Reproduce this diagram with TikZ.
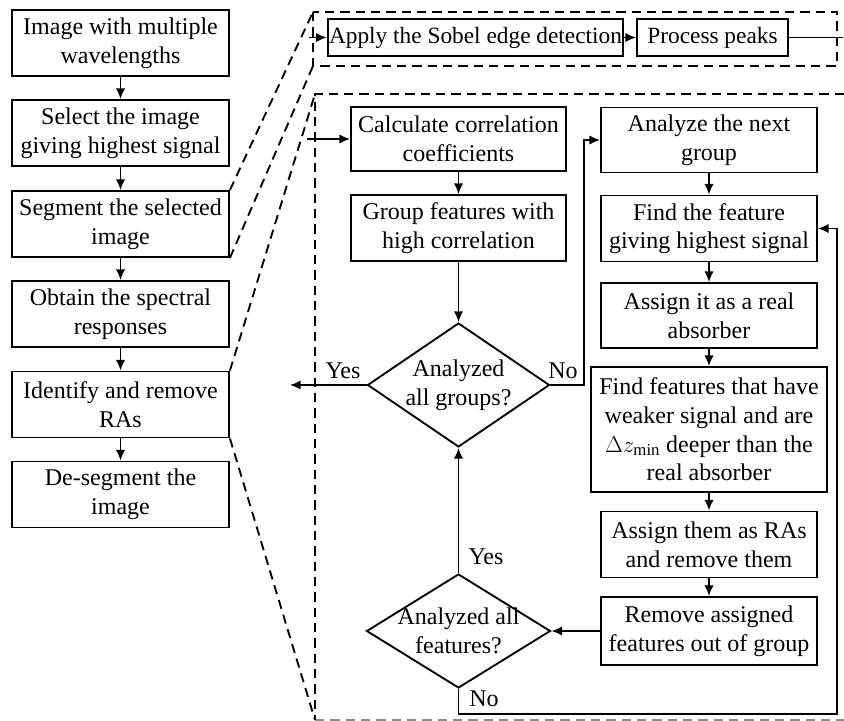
\documentclass[tikz,border=0pt]{standalone}
\usepackage{fontspec}
\setmainfont{Liberation Serif}
\usetikzlibrary{shapes.geometric,arrows.meta}

\begin{document}
\begin{tikzpicture}[x=0.75pt,y=-0.75pt,
    block/.style={draw,line width=1.4pt,align=center,inner sep=1pt,
        minimum width=162.75pt,minimum height=49.5pt,font=\fontsize{18}{21.5}\selectfont},
    decision/.style={draw,diamond,line width=1.4pt,align=center,inner sep=-12pt,
        font=\fontsize{18}{21.5}\selectfont},
    lbl/.style={inner sep=0pt,font=\fontsize{18}{21.5}\selectfont},
    arrow/.style={line width=1.3pt,-{Latex[length=8pt,width=7pt]}},
    zoomline/.style={line width=1.4pt,dash pattern=on 7pt off 4.5pt}]
\useasboundingbox (0,0) rectangle (844,721);
            % main steps
            \node (img) at (120.5,43) [block] {Image with multiple\\wavelengths};
            \node (sel) at (120.5,133) [block] {Select the image\\giving highest signal};
            \node (seg) at (120.5,224) [block] {Segment the selected\\image};
            \node (obt) at (120.5,314) [block] {Obtain the spectral\\responses};
            \node (idf) at (120.5,404.5) [block] {Identify and remove\\RAs};
            \node (des) at (120.5,494.5) [block] {De-segment the\\image};
            \draw[arrow] (img) -- (sel);
            \draw[arrow] (sel) -- (seg);
            \draw[arrow] (seg) -- (obt);
            \draw[arrow] (obt) -- (idf);
            \draw[arrow] (idf) -- (des);
            % segmentation detail
            \coordinate (ta) at (313,12);
            \coordinate (tb) at (313,66);
            \coordinate (tc) at (837,66);
            \coordinate (tin) at (309,37.5);
            \coordinate (tout) at (843,37.5);
            \draw[zoomline] (ta) rectangle (tc);
            \node (sob) at (475.5,37.5) [block,minimum width=219.75pt,minimum height=27.75pt,font=\fontsize{17.5}{21}\selectfont] {Apply the Sobel edge detection};
            \node (pro) at (712.5,37.5) [block,minimum width=113.25pt,minimum height=27.75pt,font=\fontsize{17.5}{21}\selectfont] {Process peaks};
            \draw[arrow] (tin) -- (sob);
            \draw[arrow] (sob) -- (pro);
            \draw[line width=1.3pt] (pro) -- (tout);
            \draw[zoomline] (seg.north east) -- (ta);
            \draw[zoomline] (seg.south east) -- (tb);
            % RA removal detail
            \coordinate (ba) at (315,94);
            \coordinate (bb) at (315,720);
            \draw[zoomline] (844,94) -- (ba) -- (bb);
            \draw[zoomline,black!45] (bb) -- (844,720);
            \draw[zoomline] (idf.north east) -- (ba);
            \draw[zoomline] (idf.south east) -- (bb);
            \coordinate (cin) at (307,139);
            \node (cal) at (458.5,139) [block,minimum width=161.25pt,minimum height=48pt] {Calculate correlation\\coefficients};
            \node (grp) at (458.5,228) [block,minimum width=161.25pt] {Group features with\\high correlation};
            \node (dg) at (458.5,385) [decision,minimum width=136.5pt,minimum height=93pt] {Analyzed\\all groups?};
            \node (ana) at (709,140) [block,minimum width=162pt,minimum height=48.75pt] {Analyze the next\\group};
            \node (fea) at (709,228.5) [block,minimum width=162pt] {Find the feature\\giving highest signal};
            \node (asg) at (709,315.5) [block,minimum width=162pt,minimum height=48.75pt] {Assign it as a real\\absorber};
            \node (fnd) at (709,429.5) [block,minimum width=177pt,minimum height=93.75pt] {Find features that have\\weaker signal and are\\$\Delta z_{\mathrm{min}}$ deeper than the\\real absorber};
            \node (asm) at (709,544.5) [block,minimum width=162pt] {Assign them as RAs\\and remove them};
            \node (rmv) at (709,631) [block,minimum width=162pt,minimum height=51pt] {Remove assigned\\features out of group};
            \node (df) at (458.5,631) [decision,minimum width=138pt,minimum height=85.5pt] {Analyzed all\\features?};
            \coordinate (yout) at (290,385);
            \coordinate (nobend) at (584,385);
            \coordinate (lpa) at (458.5,714);
            \coordinate (lpb) at (837,714);
            \draw[arrow] (cin) -- (cal);
            \draw[arrow] (cal) -- (grp);
            \draw[arrow] (grp) -- (dg);
            \draw[arrow] (dg.west) -- (yout);
            \draw[arrow] (dg.east) -- (nobend) |- (ana.west);
            \draw[arrow] (ana) -- (fea);
            \draw[arrow] (fea) -- (asg);
            \draw[arrow] (asg) -- (fnd);
            \draw[arrow] (fnd) -- (asm);
            \draw[arrow] (asm) -- (rmv);
            \draw[arrow] (rmv) -- (df.east);
            \draw[arrow] (df.north) -- (dg.south);
            \draw[arrow] (df.south) -- (lpa) -- (lpb) |- (fea.east);
            \node (yes1) at (343,371) [lbl] {Yes};
            \node (no1) at (563,371) [lbl] {No};
            \node (yes2) at (486,557) [lbl] {Yes};
            \node (no2) at (484,699) [lbl] {No};
        \end{tikzpicture}
\end{document}
